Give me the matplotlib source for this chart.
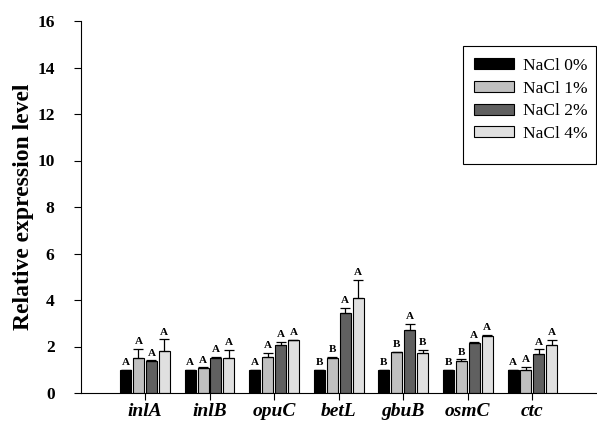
import matplotlib
matplotlib.use("Agg")
import matplotlib.pyplot as plt
from matplotlib.patches import Rectangle
import numpy as np

genes = ["inlA", "inlB", "opuC", "betL", "gbuB", "osmC", "ctc"]
series = ["NaCl 0%", "NaCl 1%", "NaCl 2%", "NaCl 4%"]
nacl0 = [1.0, 1.0, 1.0, 1.0, 1.0, 1.0, 1.0]
nacl1 = [1.49, 1.08, 1.55, 1.49, 1.75, 1.38, 0.98]
nacl2 = [1.36, 1.49, 2.05, 3.45, 2.70, 2.16, 1.69]
nacl4 = [1.81, 1.49, 2.27, 4.07, 1.71, 2.45, 2.05]
err0 = [0.0, 0.0, 0.0, 0.0, 0.0, 0.0, 0.0]
err1 = [0.40, 0.02, 0.18, 0.06, 0.02, 0.07, 0.14]
err2 = [0.04, 0.07, 0.15, 0.20, 0.28, 0.02, 0.19]
err4 = [0.50, 0.36, 0.03, 0.80, 0.14, 0.05, 0.22]
letters0 = ["A", "A", "A", "B", "B", "B", "A"]
letters1 = ["A", "A", "A", "B", "B", "B", "A"]
letters2 = ["A", "A", "A", "A", "A", "A", "A"]
letters4 = ["A", "A", "A", "A", "B", "A", "A"]

values = [nacl0, nacl1, nacl2, nacl4]
errors = [err0, err1, err2, err4]
letters = [letters0, letters1, letters2, letters4]
colors = ["#000000", "#c0c0c0", "#606060", "#e0e0e0"]

W, H = 597, 421
fig = plt.figure(figsize=(W / 100, H / 100), dpi=100)
ax = fig.add_axes([81 / W, 28 / H, (W - 81) / W, (393 - 21) / H])

x = np.arange(len(genes))
w = 0.2
bw = 0.17
for k in range(4):
    pos = x + (k - 1.5) * w
    ax.bar(pos, values[k], width=bw, color=colors[k], edgecolor="black",
           linewidth=0.8, label=series[k], zorder=2)
    ax.errorbar(pos, values[k], yerr=[np.zeros(len(genes)), errors[k]],
                fmt="none", ecolor="black", elinewidth=0.9, capsize=3.5,
                capthick=0.9, zorder=3)
    for i in range(len(genes)):
        ax.annotate(letters[k][i], (pos[i], values[k][i] + errors[k][i]),
                    xytext=(0, 2), textcoords="offset points",
                    ha="center", va="bottom", fontsize=8,
                    fontweight="bold", family="Liberation Serif")

ax.set_xlim(-0.99, 7.0)
ax.set_ylim(0, 16)
ax.set_yticks(np.arange(0, 17, 2))
ax.set_xticks(x)
ax.set_xticklabels(genes, fontsize=14, fontweight="bold", style="italic",
                   family="Liberation Serif")
for t in ax.get_yticklabels():
    t.set_fontsize(12.5)
    t.set_fontweight("bold")
    t.set_family("Liberation Serif")
ax.tick_params(axis="y", direction="out", length=5, width=0.8, pad=14)
ax.tick_params(axis="x", direction="out", length=5, width=0.8, pad=2)
ax.spines["top"].set_visible(False)
ax.spines["right"].set_visible(False)
ax.set_ylabel("Relative expression level", fontsize=17, fontweight="bold",
              family="Liberation Serif", labelpad=2)

leg = ax.legend(loc="upper left", bbox_to_anchor=(474 / W, 1 - 58 / H),
                bbox_transform=fig.transFigure, frameon=False,
                prop={"family": "Liberation Serif", "size": 12.5},
                handlelength=2.3, handleheight=0.6, borderpad=0,
                labelspacing=0.38, handletextpad=0.5, borderaxespad=0)
fig.patches.append(Rectangle((463 / W, 1 - 164 / H), (596 - 463) / W,
                             (164 - 46) / H, transform=fig.transFigure,
                             fill=False, edgecolor="black", linewidth=0.8))

fig.savefig("out.png", dpi=100)
